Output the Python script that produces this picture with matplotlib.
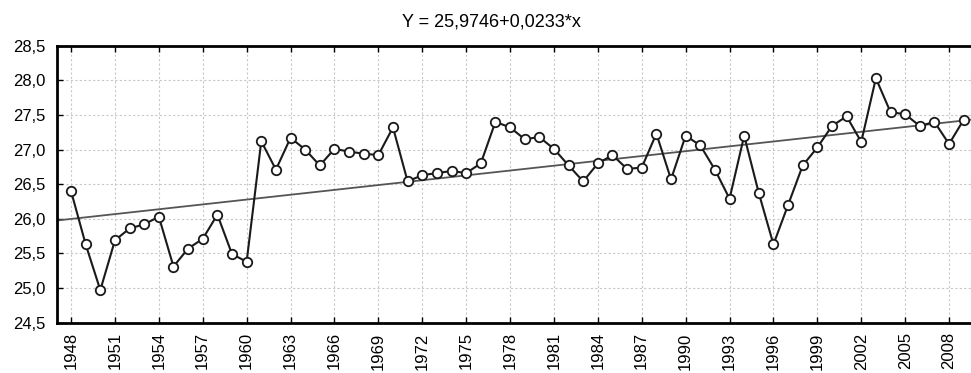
import numpy as np
import matplotlib.pyplot as plt
from matplotlib.ticker import FuncFormatter

plt.rcParams['font.family'] = ['Liberation Sans', 'DejaVu Sans']

# Data
years = list(range(1948, 2010))
values = [26.40, 25.63, 24.97, 25.69, 25.86, 25.92, 26.03, 25.31, 25.57, 25.71,
          26.06, 25.49, 25.38, 27.12, 26.71, 27.17, 27.00, 26.77, 27.01, 26.97,
          26.94, 26.92, 27.32, 26.54, 26.63, 26.66, 26.69, 26.66, 26.80, 27.40,
          27.32, 27.15, 27.18, 27.01, 26.77, 26.54, 26.80, 26.92, 26.72, 26.74,
          27.23, 26.57, 27.20, 27.06, 26.71, 26.29, 27.20, 26.37, 25.63, 26.20,
          26.77, 27.03, 27.34, 27.48, 27.11, 28.03, 27.54, 27.51, 27.34, 27.40,
          27.08, 27.43]
xticks = list(range(1948, 2009, 3))
yticks = [24.5, 25.0, 25.5, 26.0, 26.5, 27.0, 27.5, 28.0, 28.5]

# Regression line given in the title (x = index starting at 1)
intercept, slope = 25.9746, 0.0233
xlim = (1947.04, 2009.5)

fig = plt.figure(figsize=(9.71, 3.73), dpi=100)
ax = fig.add_axes([0.0587, 0.135, 0.9413, 0.7425])

trend_x = np.array(xlim)
trend_y = intercept + slope * (trend_x - 1947)
ax.plot(trend_x, trend_y, color='#555555', lw=1.3, zorder=2)

ax.plot(years, values, color='#1a1a1a', lw=1.5, marker='o', ms=6.8,
        mfc='white', mec='#1a1a1a', mew=1.3, zorder=3, clip_on=False)

ax.set_xlim(*xlim)
ax.set_ylim(24.5, 28.5)
ax.set_xticks(xticks)
ax.set_yticks(yticks)
ax.yaxis.set_major_formatter(FuncFormatter(lambda v, p: f'{v:.1f}'.replace('.', ',')))
ax.tick_params(axis='x', direction='in', length=4, width=1, top=True,
               labelrotation=90, labelsize=12, pad=7)
ax.tick_params(axis='y', direction='in', length=4, width=1, labelsize=12, pad=8)

ax.grid(True, color='#c8c8c8', linestyle=(0, (2, 2)), lw=0.8)
for side in ['left', 'bottom', 'top']:
    ax.spines[side].set_linewidth(2)
    ax.spines[side].set_color('black')
ax.spines['right'].set_visible(False)

fig.text(0.506, 0.928, 'Y = 25,9746+0,0233*x', ha='center', va='baseline', fontsize=13)

fig.savefig('out.png', dpi=100)
